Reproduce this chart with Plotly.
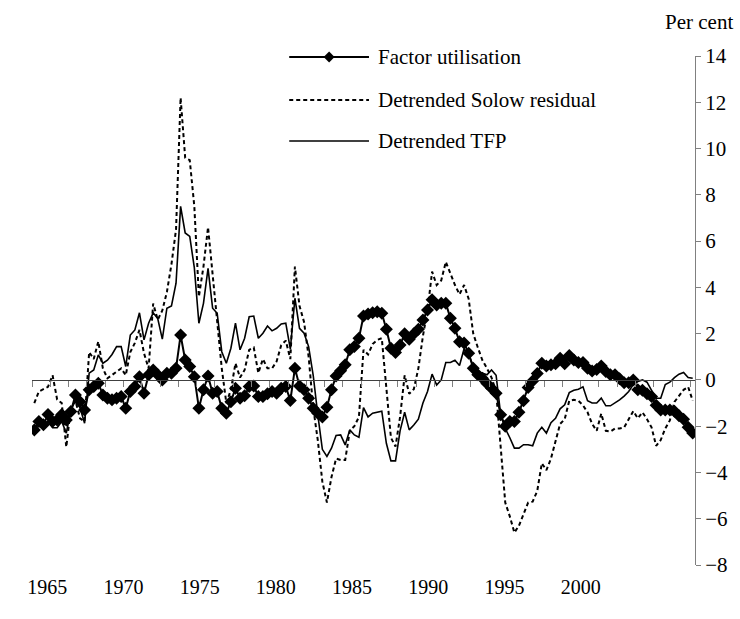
import plotly.graph_objects as go
import pandas as pd

# ---------------- data (quarterly, 1965Q1 - 2001Q1) ----------------
quarters = pd.period_range("1965Q1", "2001Q1", freq="Q")

factor_utilisation = [
    -2.16, -1.8, -1.94, -1.5, -1.8, -1.73, -1.5, -1.73, -1.37, -0.65, -0.94, -1.3,
    -0.43, -0.29, -0.14, -0.65, -0.79, -0.86, -0.79, -0.72, -1.22, -0.5, -0.29, 0.14,
    -0.58, 0.22, 0.43, 0.22, 0.0, 0.29, 0.29, 0.5, 1.94, 0.86, 0.58, 0.14,
    -1.22, -0.43, 0.17, -0.58, -0.5, -1.22, -1.44, -0.94, -0.36, -0.79, -0.69, -0.29,
    -0.26, -0.72, -0.72, -0.6, -0.5, -0.58, -0.36, -0.29, -0.89, 0.5, -0.26, -0.43,
    -0.79, -1.22, -1.44, -1.6, -1.18, -0.43, 0.17, 0.4, 0.65, 1.3, 1.44, 1.8,
    2.76, 2.85, 2.9, 2.95, 2.88, 2.19, 1.37, 1.18, 1.51, 1.99, 1.76, 2.0,
    2.19, 2.59, 3.02, 3.46, 3.24, 3.31, 3.31, 2.67, 2.23, 1.65, 1.59, 1.15,
    0.5, 0.22, 0.07, -0.15, -0.36, -0.58, -1.51, -2.0, -1.8, -1.8, -1.4, -0.9,
    -0.33, -0.05, 0.28, 0.72, 0.6, 0.65, 0.7, 0.94, 0.7, 1.05, 0.86, 0.75,
    0.75, 0.5, 0.38, 0.45, 0.6, 0.36, 0.22, 0.22, 0.05, -0.12, -0.12, 0.0,
    -0.43, -0.45, -0.6, -0.72, -1.1, -1.3, -1.3, -1.3, -1.35, -1.55, -1.7, -2.05,
    -2.3,
]

solow_residual = [
    -1.0, -0.5, -0.4, -0.3, 0.2, -0.85, -1.0, -2.9, -1.2, -0.9, -1.66, -1.8,
    1.2, 0.9, 1.66, 0.5, 0.07, 0.22, 0.36, 0.5, 0.2, 1.2, 1.6, 2.16,
    1.15, 0.5, 3.3, 2.6, 3.0, 3.8, 5.0, 6.5, 12.2, 9.6, 9.5, 7.5,
    3.6, 4.9, 6.6, 4.6, 2.7, 0.5, -1.0, -0.43, 0.72, 0.1, 0.43, 1.3,
    1.4, 0.3, 0.9, 0.5, 0.5, 0.8, 1.5, 1.7, 0.9, 4.9, 3.2, 2.5,
    1.0, -1.2, -2.6, -4.4, -5.3, -4.2, -3.4, -3.46, -3.46, -2.2, -2.0, -1.6,
    1.3, 1.1, 1.55, 1.73, 1.8, -0.3, -2.5, -2.88, -1.6, 0.2, -0.6, -0.4,
    0.5, 1.9, 3.0, 4.68, 4.1, 4.3, 5.1, 4.6, 4.1, 3.7, 4.1, 3.5,
    2.0, 1.4, 0.85, 0.5, 0.1, -0.5, -3.0, -5.3, -5.9, -6.6, -6.3, -5.8,
    -5.3, -5.26, -4.8, -3.6, -3.9, -3.4, -2.6, -1.9, -1.7, -0.9, -0.86, -0.9,
    -1.1, -1.4, -1.9, -2.2, -1.45, -2.2, -2.23, -2.1, -2.1, -2.05, -1.7, -1.35,
    -1.66, -1.4, -1.7, -2.05, -2.85, -2.6, -2.1, -1.75, -0.95, -0.7, -0.43, -0.3,
    -0.9,
]

detrended_tfp = [
    -2.07, -1.95, -1.9, -1.8, -2.07, -2.07, -1.8, -2.3, -1.3, -0.9, -1.2, -1.87,
    0.29, 0.43, 1.08, 0.72, 0.85, 1.1, 1.44, 1.44, 0.58, 1.94, 2.16, 2.9,
    1.73, 2.45, 2.9, 2.65, 1.76, 3.1, 3.2, 4.18, 7.5, 6.35, 6.2, 4.85,
    2.45, 3.31, 4.82, 3.1, 2.88, 1.22, 0.72, 1.37, 2.45, 1.3, 1.8, 2.73,
    2.76, 1.8, 2.02, 2.33, 2.12, 2.23, 2.42, 2.45, 1.33, 3.53, 2.23, 2.02,
    1.44, 0.2, -1.5, -3.0, -3.31, -2.95, -2.4, -2.38, -2.81, -2.16, -2.38, -2.48,
    -1.2, -1.6, -1.44, -1.4, -1.35, -2.74, -3.5, -3.5, -2.2, -1.4, -2.16, -1.95,
    -1.7, -1.0, -0.5, 0.25, -0.22, 0.0, 0.75, 0.75, 0.85, 0.62, 1.35, 1.1,
    0.6, 0.36, 0.3, 0.22, 0.43, 0.2, -1.5, -2.1, -2.5, -2.95, -2.95, -2.8,
    -2.8, -2.85, -2.3, -2.05, -2.3, -1.85, -1.66, -1.25, -1.08, -0.55, -0.45, -0.4,
    -0.3, -0.9, -1.0, -1.0, -0.79, -1.12, -1.12, -1.0, -0.86, -0.7, -0.5, -0.2,
    -0.07, 0.0, -0.1, -0.45, -0.79, -0.79, -0.2, -0.1, 0.1, 0.25, 0.32, 0.1,
    0.07,
]

series_names = ["Factor utilisation", "Detrended Solow residual", "Detrended TFP"]
year_labels = [1965, 1970, 1975, 1980, 1985, 1990, 1995, 2000]
y_ticks = list(range(-8, 15, 2))
unit_label = "Per cent"

# ---------------- figure ----------------
x = [p.year + (p.quarter - 1) / 4 + 0.125 for p in quarters]
FONT = "Liberation Serif, Times New Roman, serif"

W, H = 740, 619
L, R, T, B = 32, 43, 56, 54
PW, PH = W - L - R, H - T - B


def px(xp):
    return (xp - L) / PW


def py(yp):
    return (H - B - yp) / PH


fig = go.Figure()
fig.add_trace(go.Scatter(x=x, y=detrended_tfp, mode="lines", name=series_names[2],
                         line=dict(color="black", width=1.6), showlegend=False))
fig.add_trace(go.Scatter(x=x, y=solow_residual, mode="lines", name=series_names[1],
                         line=dict(color="black", width=2, dash="4px,3px"), showlegend=False))
fig.add_trace(go.Scatter(x=x, y=factor_utilisation, mode="lines+markers", name=series_names[0],
                         line=dict(color="black", width=2),
                         marker=dict(symbol="diamond", size=10, color="black"),
                         showlegend=False))
# label axis (bottom year labels)
fig.add_trace(go.Scatter(x=[year_labels[0]], y=[None], xaxis="x2", mode="markers",
                         showlegend=False, hoverinfo="skip"))

ymin, ymax = y_ticks[0], y_ticks[-1]
fig.update_layout(
    width=W, height=H,
    margin=dict(l=L, r=R, t=T, b=B, pad=0),
    paper_bgcolor="white", plot_bgcolor="white",
    font=dict(family=FONT, size=21, color="black"),
    xaxis=dict(range=[1965, 2001.25], anchor="free", position=(0 - ymin) / (ymax - ymin),
               showline=True, linecolor="#404040", linewidth=1,
               ticks="outside", ticklen=6, tickcolor="#808080", tickwidth=1,
               tick0=1965, dtick=1, showticklabels=False,
               showgrid=False, zeroline=False),
    xaxis2=dict(range=[1964.0, 2007.5], overlaying="x", anchor="y", side="bottom",
                tickvals=year_labels, ticktext=[str(v) for v in year_labels],
                ticks="outside", ticklen=4, tickcolor="rgba(0,0,0,0)",
                showline=False, showgrid=False, zeroline=False,
                tickfont=dict(family=FONT, size=20, color="black")),
    yaxis=dict(range=[ymin, ymax], side="right", tickvals=y_ticks,
               showline=True, linecolor="#808080", linewidth=1,
               ticks="outside", ticklen=5, tickcolor="#808080",
               showgrid=False, zeroline=False,
               tickfont=dict(family=FONT, size=21, color="black")),
    showlegend=False,
)

# unit label
fig.add_annotation(x=px(737), y=py(22), xref="paper", yref="paper", text=unit_label,
                   showarrow=False, xanchor="right", yanchor="middle",
                   font=dict(family=FONT, size=21, color="black"))

# manual legend
rows = [57, 100, 141]
dashes = ["solid", "4px,3px", "solid"]
widths = [2, 2, 1.6]
x0, x1, xt = 290, 370, 377
for name, yr, d, w in zip(series_names, rows, dashes, widths):
    fig.add_shape(type="line", xref="paper", yref="paper",
                  x0=px(x0), x1=px(x1), y0=py(yr), y1=py(yr),
                  line=dict(color="black", width=w, dash=d))
    fig.add_annotation(x=px(xt), y=py(yr), xref="paper", yref="paper", text=name,
                       showarrow=False, xanchor="left", yanchor="middle",
                       font=dict(family=FONT, size=21, color="black"))
# diamond marker in first legend row
cx, cy, r = 330, rows[0], 5.5
fig.add_shape(type="path", xref="paper", yref="paper",
              path=f"M {px(cx - r)} {py(cy)} L {px(cx)} {py(cy - r)} L {px(cx + r)} {py(cy)} L {px(cx)} {py(cy + r)} Z",
              fillcolor="black", line=dict(color="black", width=0))

fig.write_html("out.html", config={"displayModeBar": False},
               post_script="document.body.style.margin='0';document.body.style.overflow='hidden';")
